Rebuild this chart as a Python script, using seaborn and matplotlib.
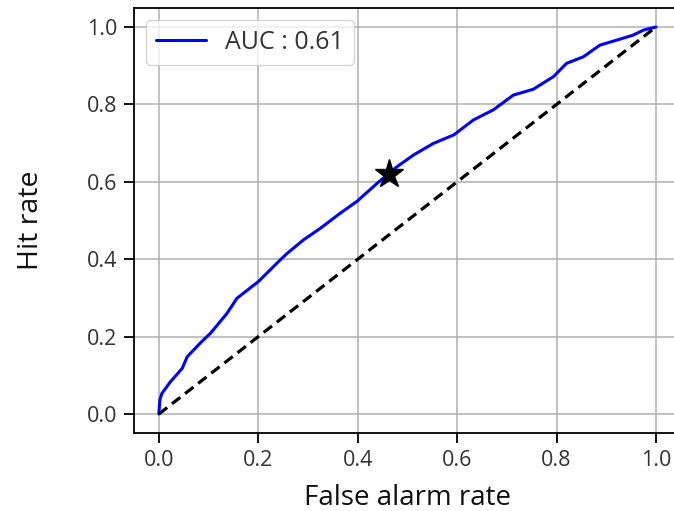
import matplotlib
matplotlib.use("Agg")
import matplotlib.pyplot as plt
import seaborn as sns
import pandas as pd

# ROC curve (false alarm rate, hit rate)
far = [0.0, 0.002, 0.006, 0.023, 0.047, 0.057, 0.083, 0.104, 0.137, 0.157,
       0.200, 0.244, 0.258, 0.291, 0.325, 0.365, 0.398, 0.439, 0.461, 0.479,
       0.512, 0.552, 0.593, 0.633, 0.673, 0.713, 0.753, 0.794, 0.820, 0.854,
       0.887, 0.921, 0.954, 0.975, 1.0]
hit = [0.0, 0.036, 0.053, 0.083, 0.118, 0.148, 0.183, 0.209, 0.260, 0.299,
       0.342, 0.398, 0.415, 0.450, 0.480, 0.519, 0.549, 0.596, 0.620, 0.639,
       0.669, 0.699, 0.721, 0.760, 0.786, 0.824, 0.839, 0.872, 0.906, 0.923,
       0.953, 0.966, 0.979, 0.992, 1.0]
chance = [0.0, 1.0]
point_far = [0.462]
point_hit = [0.62]
auc_label = "AUC : 0.61"
ticks = [0.0, 0.2, 0.4, 0.6, 0.8, 1.0]
tick_labels = ["0.0", "0.2", "0.4", "0.6", "0.8", "1.0"]

sns.set_style("ticks")
plt.rcParams["font.family"] = ["Open Sans", "DejaVu Sans"]

fig = plt.figure(figsize=(6.74, 5.11), dpi=100)
ax = fig.add_axes([0.1988, 0.1519, 0.8114, 0.8332])

df = pd.DataFrame({"far": far, "hit": hit})
sns.lineplot(data=df, x="far", y="hit", ax=ax, color="blue", lw=2.2,
             label=auc_label, sort=False, estimator=None)
sns.lineplot(x=chance, y=chance, ax=ax, color="black", lw=2.3,
             linestyle="--", dashes=False, estimator=None)
ax.lines[-1].set_linestyle((0, (3.3, 1.9)))
ax.plot(point_far, point_hit, marker="*", color="black", ms=21, ls="none", zorder=5)

ax.set_xlim(-0.05, 1.05)
ax.set_ylim(-0.05, 1.05)
ax.set_xticks(ticks)
ax.set_xticklabels(tick_labels)
ax.set_yticks(ticks)
ax.set_yticklabels(tick_labels)
ax.grid(True, color="#b0b0b0", lw=1.1)
ax.set_axisbelow(True)
for s in ax.spines.values():
    s.set_linewidth(1.3)
    s.set_color("black")
ax.tick_params(axis="both", length=7, width=1.3, color="black",
               labelsize=15.5, labelcolor="#333333", pad=5)
ax.set_xlabel("False alarm rate", fontsize=20, color="#111111", labelpad=9)
ax.set_ylabel("Hit rate", fontsize=20.5, color="#111111", labelpad=30)

leg = ax.legend(loc="upper left", fontsize=18, handlelength=2.0,
                handletextpad=0.75, framealpha=0.8, edgecolor="#cccccc",
                fancybox=True, frameon=True)
for t in leg.get_texts():
    t.set_color("#333333")

fig.savefig("out.png", dpi=100)
